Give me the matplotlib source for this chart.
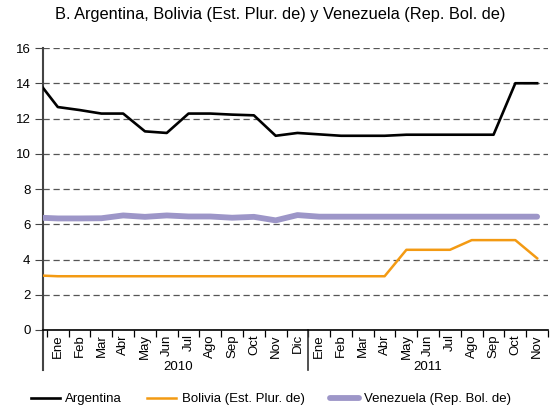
import matplotlib.pyplot as plt
from matplotlib.transforms import blended_transform_factory
import numpy as np

plt.rcParams['font.family'] = ['Liberation Sans', 'DejaVu Sans']

meses = ['Ene', 'Feb', 'Mar', 'Abr', 'May', 'Jun', 'Jul', 'Ago', 'Sep', 'Oct', 'Nov', 'Dic',
         'Ene', 'Feb', 'Mar', 'Abr', 'May', 'Jun', 'Jul', 'Ago', 'Sep', 'Oct', 'Nov']
anios = ['2010', '2011']
# first value of each series is Dic 2009 (cut off by the axis)
argentina = [14.25, 12.65, 12.48, 12.28, 12.28, 11.27, 11.18, 12.28, 12.28, 12.22, 12.18, 11.02,
             11.18, 11.1, 11.02, 11.02, 11.02, 11.08, 11.08, 11.08, 11.08, 11.08, 14.0, 14.0]
bolivia = [3.1, 3.05, 3.05, 3.05, 3.05, 3.05, 3.05, 3.05, 3.05, 3.05, 3.05, 3.05,
           3.05, 3.05, 3.05, 3.05, 3.05, 4.55, 4.55, 4.55, 5.1, 5.1, 5.1, 4.07]
venezuela = [6.38, 6.33, 6.33, 6.34, 6.5, 6.42, 6.5, 6.44, 6.44, 6.37, 6.42, 6.22,
             6.52, 6.43, 6.43, 6.43, 6.43, 6.43, 6.43, 6.43, 6.43, 6.43, 6.43, 6.43]

x = np.arange(-1, len(meses))

fig = plt.figure(figsize=(5.51, 4.07), dpi=100)
ax = fig.add_axes([43/551, 1-330/407, 505/551, 282/407])

ax.plot(x, venezuela, color='#9d96c8', lw=4.2, solid_capstyle='round', label='Venezuela (Rep. Bol. de)', zorder=3)
ax.plot(x, bolivia, color='#f39a13', lw=1.8, label='Bolivia (Est. Plur. de)', zorder=4)
ax.plot(x, argentina, color='black', lw=1.9, label='Argentina', zorder=5)

ax.set_xlim(-0.68, 22.22)
ax.set_ylim(0, 16)
ax.set_yticks(np.arange(0, 17, 2))
ax.yaxis.grid(True, linestyle=(0, (5, 3)), color='#555555', lw=0.9)
ax.set_axisbelow(True)
ax.tick_params(axis='y', length=6, color='#444444', labelsize=9.5, pad=3)

ax.set_xticks(np.arange(len(meses)))
ax.set_xticklabels(meses, rotation=90, fontsize=9.5)
ax.tick_params(axis='x', which='major', length=0, pad=3)
ax.set_xticks(np.arange(-0.5, len(meses), 1), minor=True)
ax.tick_params(axis='x', which='minor', length=5, color='black', width=0.9)

for s in ['top', 'right']:
    ax.spines[s].set_visible(False)
ax.spines['bottom'].set_color('black')
ax.spines['bottom'].set_linewidth(1.2)
ax.spines['left'].set_color('#444444')
ax.spines['left'].set_linewidth(1.5)

# year separators and labels
tr = blended_transform_factory(ax.transData, ax.transAxes)
ax.plot([11.5, 11.5], [0, -0.142], color='#333333', lw=1.2, transform=tr, clip_on=False)
ax.plot([0, 0], [0, -0.142], color='#444444', lw=1.5, transform=ax.transAxes, clip_on=False)
ax.text(5.5, -0.131, anios[0], transform=tr, ha='center', va='center', fontsize=9.5)
ax.text(17.0, -0.131, anios[1], transform=tr, ha='center', va='center', fontsize=9.5)

fig.text(280/551, 1-15/407, 'B. Argentina, Bolivia (Est. Plur. de) y Venezuela (Rep. Bol. de)',
         ha='center', va='center', fontsize=11.8)

h, l = ax.get_legend_handles_labels()
order = [2, 1, 0]
fig.legend([h[i] for i in order], [l[i] for i in order], loc='center', ncol=3,
           bbox_to_anchor=(271/551, 1-399/407), frameon=False, fontsize=9.5,
           handlelength=2.2, handletextpad=0.4, columnspacing=1.9)

fig.savefig('out.png', dpi=100)
